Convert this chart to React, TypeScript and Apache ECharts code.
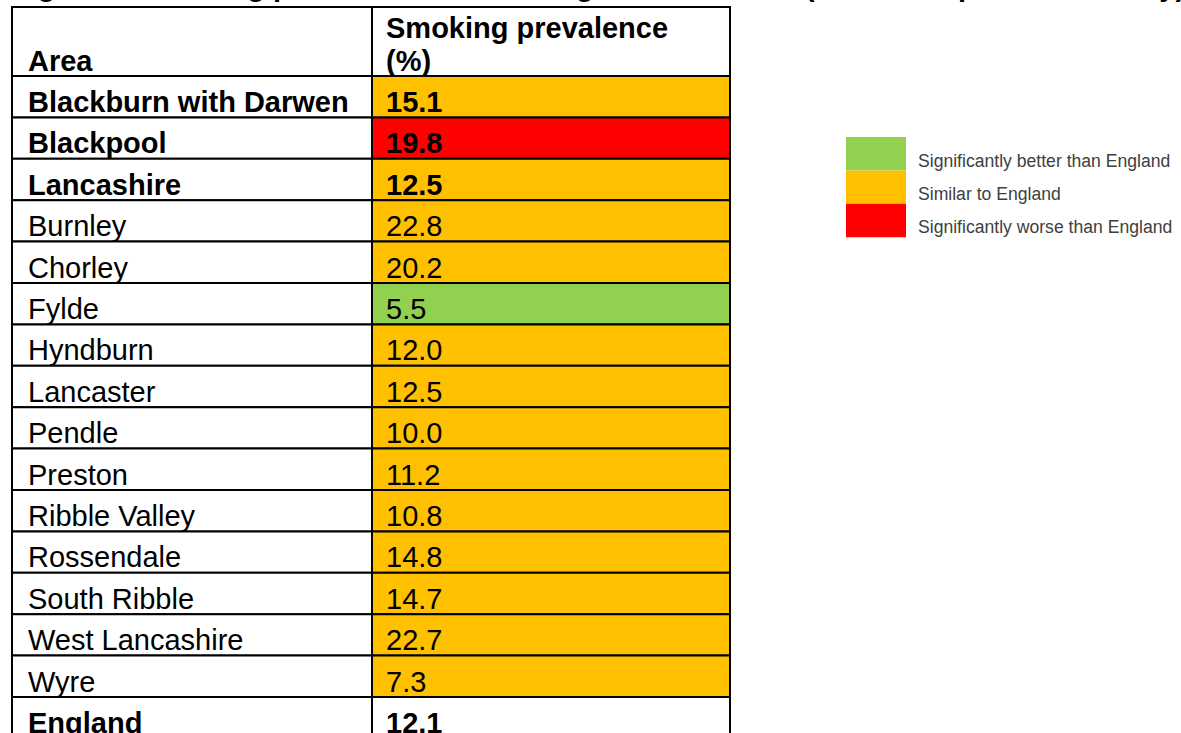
import React, { useEffect, useRef } from "react";
import * as echarts from "echarts";

const titleText =
  "Figure 8: Smoking prevalence in adults aged 18 and over (Annual Population Survey)";
const headerArea = "Area";
const headerValueLines = ["Smoking prevalence", "(%)"];

const areas = [
  "Blackburn with Darwen",
  "Blackpool",
  "Lancashire",
  "Burnley",
  "Chorley",
  "Fylde",
  "Hyndburn",
  "Lancaster",
  "Pendle",
  "Preston",
  "Ribble Valley",
  "Rossendale",
  "South Ribble",
  "West Lancashire",
  "Wyre",
  "England",
];
const prevalence = [
  15.1, 19.8, 12.5, 22.8, 20.2, 5.5, 12.0, 12.5, 10.0, 11.2, 10.8, 14.8, 14.7,
  22.7, 7.3, 12.1,
];
const comparison = [
  "similar",
  "worse",
  "similar",
  "similar",
  "similar",
  "better",
  "similar",
  "similar",
  "similar",
  "similar",
  "similar",
  "similar",
  "similar",
  "similar",
  "similar",
  "none",
];
const boldRow = [
  true, true, true, false, false, false, false, false, false, false, false,
  false, false, false, false, true,
];

const legendKeys = ["better", "similar", "worse"];
const legendLabels = [
  "Significantly better than England",
  "Similar to England",
  "Significantly worse than England",
];

const colorFor: Record<string, string> = {
  better: "#92D050",
  similar: "#FFC000",
  worse: "#FF0000",
  none: "#FFFFFF",
};

const FONT = "'Liberation Sans', Arial, sans-serif";

export default function App() {
  const ref = useRef<HTMLDivElement>(null);

  useEffect(() => {
    if (!ref.current) return;
    document.body.style.overflow = "hidden";
    const chart = echarts.init(ref.current, undefined, { renderer: "svg" });

    const tableLeft = 12;
    const tableTop = 76;
    const tableWidth = 718;
    const colSplit = 360;
    const rowH = 41.4;
    const headerTop = 7;

    const graphics: any[] = [
      {
        type: "text",
        left: 12,
        top: -29,
        style: {
          text: titleText,
          fontFamily: FONT,
          fontSize: 29,
          fontWeight: "bold",
          fill: "#000",
        },
      },
      {
        type: "rect",
        shape: { x: tableLeft, y: headerTop, width: colSplit, height: tableTop - headerTop },
        style: { fill: "#fff", stroke: "#000", lineWidth: 2 },
      },
      {
        type: "rect",
        shape: {
          x: tableLeft + colSplit,
          y: headerTop,
          width: tableWidth - colSplit,
          height: tableTop - headerTop,
        },
        style: { fill: "#fff", stroke: "#000", lineWidth: 2 },
      },
      {
        type: "text",
        x: tableLeft + 16,
        y: 61,
        style: {
          text: headerArea,
          fontFamily: FONT,
          fontSize: 29,
          fontWeight: "bold",
          fill: "#000",
          verticalAlign: "middle",
        },
      },
      ...headerValueLines.map((t, i) => ({
        type: "text",
        x: tableLeft + colSplit + 14,
        y: 28 + i * 33,
        style: {
          text: t,
          fontFamily: FONT,
          fontSize: 29,
          fontWeight: "bold",
          fill: "#000",
          verticalAlign: "middle",
        },
      })),
    ];

    legendKeys.forEach((k, i) => {
      graphics.push({
        type: "rect",
        shape: { x: 846, y: 137 + i * 33.4, width: 60, height: 33.4 },
        style: { fill: colorFor[k] },
      });
      graphics.push({
        type: "text",
        x: 918,
        y: 161 + i * 33,
        style: {
          text: legendLabels[i],
          fontFamily: FONT,
          fontSize: 17.6,
          fill: "#404040",
          verticalAlign: "middle",
        },
      });
    });

    const seriesData = areas.map((_, i) => [i, prevalence[i]]);

    chart.setOption({
      animation: false,
      grid: {
        left: tableLeft,
        top: tableTop,
        width: tableWidth,
        height: rowH * areas.length,
        containLabel: false,
      },
      xAxis: { type: "value", min: 0, max: 1, show: false },
      yAxis: { type: "category", data: areas, inverse: true, show: false },
      graphic: graphics,
      series: [
        {
          type: "custom",
          clip: false,
          data: seriesData,
          encode: { y: 0 },
          renderItem: (params: any, api: any) => {
            const idx = api.value(0);
            const val = api.value(1);
            const cs = params.coordSys;
            const h = api.size([0, 1])[1];
            const cy = api.coord([0, idx])[1];
            const top = cy - h / 2;
            const weight = boldRow[idx] ? "bold" : "normal";
            return {
              type: "group",
              children: [
                {
                  type: "rect",
                  shape: { x: cs.x, y: top, width: colSplit, height: h },
                  style: { fill: "#fff", stroke: "#000", lineWidth: 2 },
                },
                {
                  type: "rect",
                  shape: {
                    x: cs.x + colSplit,
                    y: top,
                    width: cs.width - colSplit,
                    height: h,
                  },
                  style: {
                    fill: colorFor[comparison[idx]],
                    stroke: "#000",
                    lineWidth: 2,
                  },
                },
                {
                  type: "text",
                  x: cs.x + 16,
                  y: top + 26,
                  style: {
                    text: areas[idx],
                    fontFamily: FONT,
                    fontSize: 29,
                    fontWeight: weight,
                    fill: "#000",
                    verticalAlign: "middle",
                  },
                },
                {
                  type: "text",
                  x: cs.x + colSplit + 14,
                  y: top + 26,
                  style: {
                    text: Number(val).toFixed(1),
                    fontFamily: FONT,
                    fontSize: 29,
                    fontWeight: weight,
                    fill: "#000",
                    verticalAlign: "middle",
                  },
                },
              ],
            };
          },
        },
      ],
    });

    return () => chart.dispose();
  }, []);

  return (
    <div
      ref={ref}
      style={{ position: "fixed", left: 0, top: 0, width: 1181, height: 750, background: "#fff" }}
    />
  );
}
